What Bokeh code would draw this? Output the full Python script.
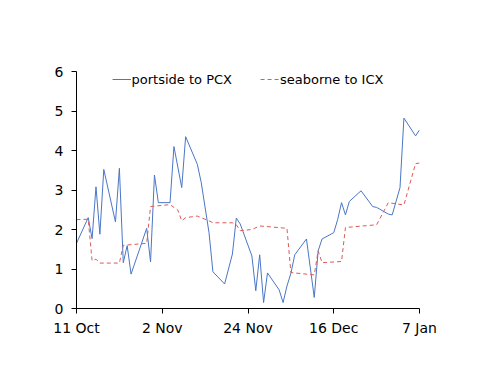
from datetime import datetime, timedelta
from bokeh.plotting import figure
from bokeh.models import Range1d, FixedTicker, DatetimeTickFormatter
from bokeh.embed import file_html
from bokeh.resources import INLINE

start_date = datetime(2021, 10, 11)

# portside to PCX (day offset from 11 Oct, value)
portside_days = [0, 3, 4, 5, 6, 7, 10, 11, 12, 13, 14, 18, 19, 20, 21, 24, 25, 27, 28,
                 31, 32, 34, 35, 38, 40, 41, 42, 45, 46, 47, 48, 49, 52, 53, 54, 55, 56,
                 59, 61, 62, 63, 66, 67, 68, 69, 70, 73, 76, 77, 80, 81, 83, 84, 87, 88]
portside_vals = [1.65, 2.30, 1.77, 3.08, 1.88, 3.52, 2.19, 3.55, 1.16, 1.59, 0.87, 2.03,
                 1.18, 3.38, 2.68, 2.68, 4.10, 3.06, 4.35, 3.65, 3.19, 1.92, 0.93, 0.62,
                 1.38, 2.29, 2.14, 1.33, 0.45, 1.36, 0.15, 0.90, 0.47, 0.15, 0.57, 0.89,
                 1.36, 1.76, 0.28, 1.46, 1.76, 1.92, 2.25, 2.68, 2.37, 2.71, 2.98, 2.58,
                 2.56, 2.39, 2.37, 3.06, 4.82, 4.37, 4.52]

# seaborne to ICX
seaborne_days = [0, 3, 4, 5, 6, 11, 12, 18, 19, 24, 26, 27, 28, 31, 34, 35, 40, 41, 42,
                 45, 47, 54, 55, 61, 62, 63, 68, 69, 77, 80, 84, 87, 88]
seaborne_vals = [2.25, 2.26, 1.21, 1.25, 1.15, 1.15, 1.60, 1.65, 2.58, 2.63, 2.49, 2.22,
                 2.30, 2.34, 2.22, 2.17, 2.17, 2.12, 1.97, 2.00, 2.09, 2.03, 0.91, 0.85,
                 1.46, 1.16, 1.19, 2.05, 2.12, 2.68, 2.62, 3.67, 3.68]

tick_days = [0, 22, 44, 66, 88]
y_ticks = [0, 1, 2, 3, 4, 5, 6]

px = [start_date + timedelta(days=d) for d in portside_days]
sx = [start_date + timedelta(days=d) for d in seaborne_days]
tick_dates = [start_date + timedelta(days=d) for d in tick_days]
epoch = datetime(1970, 1, 1)
tick_ms = [(t - epoch).total_seconds() * 1000 for t in tick_dates]

p = figure(width=490, height=370, output_backend="svg", toolbar_location=None,
           x_axis_type="datetime",
           x_range=Range1d(tick_dates[0], tick_dates[-1]),
           y_range=Range1d(0, 6),
           min_border_left=76, min_border_right=71, min_border_top=71, min_border_bottom=62)

p.line(px, portside_vals, line_color="#4a76c6", line_width=1, legend_label="portside to PCX")
p.line(sx, seaborne_vals, line_color="#dc5a5a", line_width=1, line_dash="4 3",
       legend_label="seaborne to ICX")

p.xaxis.ticker = FixedTicker(ticks=tick_ms)
p.xaxis.formatter = DatetimeTickFormatter(days="%-d %b", months="%-d %b")
p.yaxis.ticker = FixedTicker(ticks=y_ticks)

for ax in (p.xaxis[0], p.yaxis[0]):
    ax.major_label_text_font = "DejaVu Sans"
    ax.major_label_text_font_size = "14px"
    ax.major_label_text_color = "black"
    ax.axis_line_color = "black"
    ax.major_tick_line_color = "black"
    ax.minor_tick_line_color = None
    ax.major_tick_in = 0
    ax.major_tick_out = 5
p.yaxis.major_label_standoff = 8
p.xaxis.major_label_standoff = 6

p.xgrid.grid_line_color = None
p.ygrid.grid_line_color = None
p.outline_line_color = None

lg = p.legend[0]
lg.location = "top_center"
lg.orientation = "horizontal"
lg.margin = 0
lg.padding = 0
lg.spacing = 28
lg.glyph_width = 19
lg.glyph_height = 16
lg.label_height = 16
lg.label_standoff = 1
lg.label_text_font = "DejaVu Sans"
lg.label_text_font_size = "13px"
lg.label_text_color = "black"
lg.border_line_color = None
lg.background_fill_alpha = 0

open("out.html", "w").write(file_html(p, INLINE))
